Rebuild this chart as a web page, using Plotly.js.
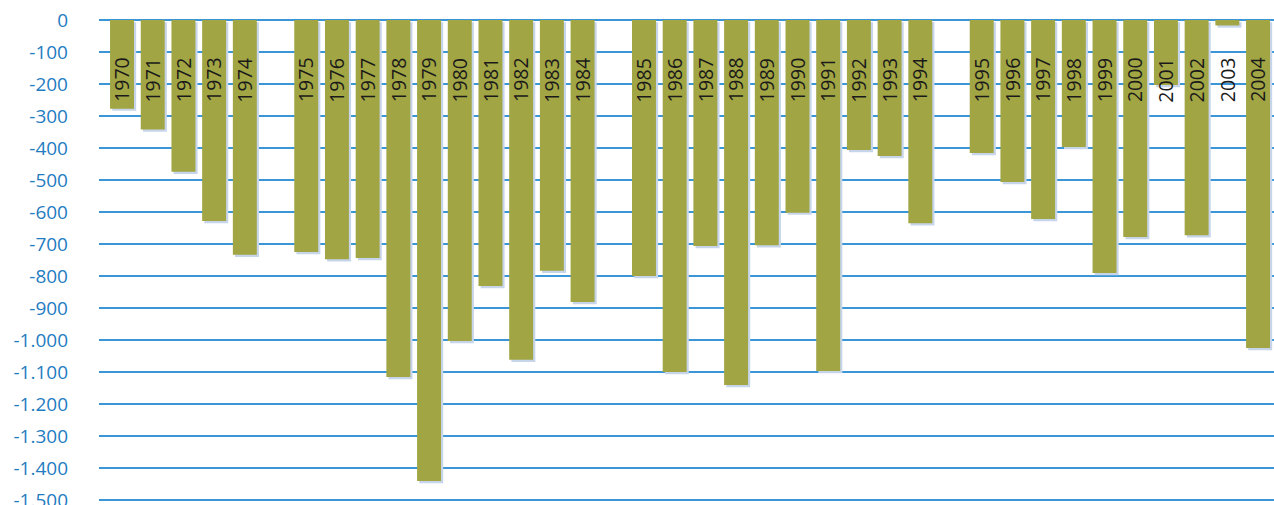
<!DOCTYPE html>
<html>
<head>
<meta charset="utf-8">
<script src="https://cdn.plot.ly/plotly-3.0.1.min.js"></script>
<style>html,body{margin:0;padding:0;background:#fff;}#chart{width:1274px;height:505px;}</style>
</head>
<body>
<div id="chart"></div>
<script>
const years = [1970,1971,1972,1973,1974,1975,1976,1977,1978,1979,1980,1981,1982,1983,1984,
               1985,1986,1987,1988,1989,1990,1991,1992,1993,1994,
               1995,1996,1997,1998,1999,2000,2001,2002,2003,2004];
const values = [-277,-342,-474,-628,-734,-725,-748,-744,-1116,-1441,-1003,-831,-1062,-784,-881,
                -800,-1100,-706,-1141,-704,-602,-1097,-406,-425,-635,
                -416,-506,-622,-397,-791,-678,-203,-673,-17,-1025];
const tickValues = [0,-100,-200,-300,-400,-500,-600,-700,-800,-900,-1000,-1100,-1200,-1300,-1400,-1500];
const tickLabels = ['0','-100','-200','-300','-400','-500','-600','-700','-800','-900','-1.000','-1.100','-1.200','-1.300','-1.400','-1.500'];

// one empty slot between the year groups 1970-74, 1975-84, 1985-94, 1995-2004
const pos = years.map(y => (y - 1970) + (y < 1975 ? 0 : y < 1985 ? 1 : y < 1995 ? 2 : 3));

const W = 0.78;
const shadow = {
  type: 'bar', x: pos, y: values, base: -7,
  width: W, offset: -W/2 + 0.07,
  marker: {color: '#c7d5ea', line: {width: 0}},
  hoverinfo: 'skip', showlegend: false
};
const bars = {
  type: 'bar', x: pos, y: values,
  width: W, offset: -W/2,
  marker: {color: '#a1a543', line: {width: 0}},
  showlegend: false
};

const annotations = years.map((yr, i) => ({
  x: pos[i], xref: 'x', y: -187, yref: 'y',
  text: String(yr), showarrow: false, textangle: -90,
  xanchor: 'center', yanchor: 'middle',
  font: {family: 'Open Sans, sans-serif', size: 19.5, color: '#1a1a1a'}
}));

const layout = {
  width: 1274, height: 505,
  margin: {l: 99, r: 0, t: 19, b: 2},
  paper_bgcolor: '#fff', plot_bgcolor: '#fff',
  barmode: 'overlay',
  xaxis: {range: [-0.75, 37.52], showgrid: false, zeroline: false, showticklabels: false, showline: false, ticks: ''},
  yaxis: {
    range: [-1509.4, 3.1], tickvals: tickValues, ticktext: tickLabels,
    showgrid: true, gridcolor: '#3a96d6', gridwidth: 1.5,
    zeroline: true, zerolinecolor: '#3a96d6', zerolinewidth: 1.5,
    showline: false, ticks: '', ticklabelstandoff: 30, ticklabeloverflow: 'allow',
    tickfont: {family: 'Open Sans, sans-serif', size: 19, color: '#1f7cc1'}
  },
  annotations: annotations,
  showlegend: false
};

Plotly.newPlot('chart', [shadow, bars], layout, {displayModeBar: false, staticPlot: true});
</script>
</body>
</html>
